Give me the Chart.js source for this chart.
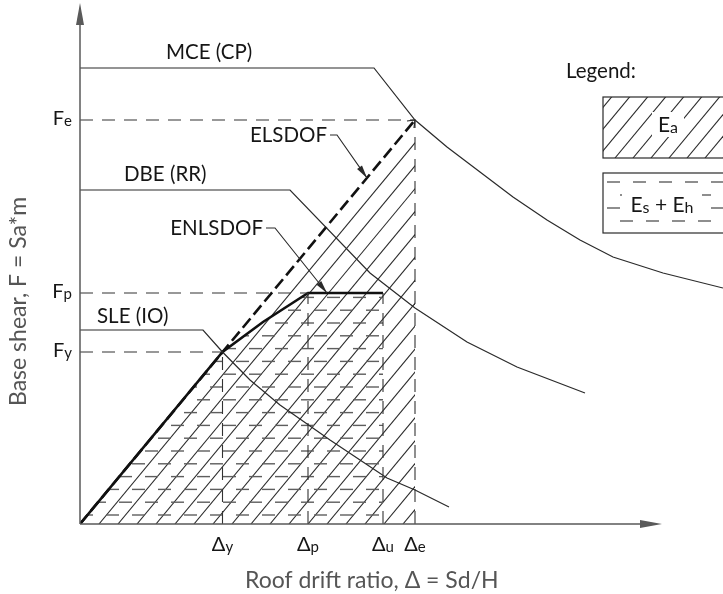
<!DOCTYPE html>
<html>
<head>
<meta charset="utf-8">
<script src="https://cdn.jsdelivr.net/npm/chart.js@4.4.1/dist/chart.umd.min.js"></script>
<style>
  html, body { margin: 0; padding: 0; background: #ffffff; }
  #wrap { width: 723px; height: 594px; }
</style>
</head>
<body>
<div id="wrap"><canvas id="c" width="723" height="594"></canvas></div>
<script>
// ---- Pushover / spectrum landmarks (drift and shear units) ----
const driftTickValues = [14.25, 22.8, 30.3, 33.5];          // Δy, Δp, Δu, Δe
const driftTickLabels = [['Δ', 'y'], ['Δ', 'p'], ['Δ', 'u'], ['Δ', 'e']];
const shearTickValues = [17.2, 23.1, 40.4];                  // Fy, Fp, Fe
const shearTickLabels = [['F', 'y'], ['F', 'p'], ['F', 'e']];

// ---- Demand spectra (ADRS) ----
const mceDrift = [0, 29.4, 33.5, 36.7, 40.0, 43.3, 46.7, 50.0, 53.3, 58.3, 64.3];
const mceShear = [45.6, 45.6, 40.4, 37.7, 35.2, 32.7, 30.4, 28.4, 26.7, 25.1, 23.6];
const dbeDrift = [0, 21.0, 29.0, 33.5, 38.7, 43.7, 50.5];
const dbeShear = [33.4, 33.4, 25.1, 21.6, 18.2, 15.7, 13.1];
const sleDrift = [0, 12.3, 14.25, 17.0, 20.0, 25.0, 30.7, 33.5, 36.9];
const sleShear = [19.4, 19.4, 17.2, 14.4, 11.9, 8.4, 4.6, 3.4, 1.7];

// ---- Equivalent SDOF capacity curves ----
const elsDrift = [0, 33.5];                 // elastic (ELSDOF)
const elsShear = [0, 40.4];
const enlDrift = [0, 14.25, 18.3, 22.8, 30.3]; // nonlinear (ENLSDOF)
const enlShear = [0, 17.2, 20.2, 23.1, 23.1];

// ---- Frame of the drawing ----
const X_MAX = 64.3, Y_MAX = 52.1;
const X_AXIS_END = 58.2;
const INK = '#2a2a2a';
const TEXT = '#161616';
const AXIS = '#5a5a5a';
const FONT = 'Lato, "Open Sans", sans-serif';

const zip = (xs, ys) => xs.map((x, i) => ({ x, y: ys[i] }));

function curve(label, xs, ys, extra) {
  return Object.assign({
    label, data: zip(xs, ys), showLine: true, pointRadius: 0,
    borderColor: INK, borderWidth: 1.2, fill: false, tension: 0
  }, extra || {});
}

// dashed guide lines from the axes to the landmark points
const [Dy, Dp, Du, De] = driftTickValues;
const [Fy, Fp, Fe] = shearTickValues;
const guideStyle = { borderDash: [13, 9], borderWidth: 1.1, borderColor: '#333' };
const guides = [
  curve('Fe guide', [0, De], [Fe, Fe], guideStyle),
  curve('Fp guide', [0, Dp], [Fp, Fp], guideStyle),
  curve('Fy guide', [0, Dy], [Fy, Fy], guideStyle),
  curve('Δy guide', [Dy, Dy], [0, Fy], guideStyle),
  curve('Δp guide', [Dp, Dp], [0, Fp], guideStyle),
  curve('Δu guide', [Du, Du], [0, Fp], guideStyle),
  curve('Δe guide', [De, De], [0, Fe], guideStyle)
];

// text with small trailing subscripts, e.g. F + e
function drawSub(ctx, parts, x, y, size, align, ratio) {
  const r = ratio || 0.74;
  const big = `${size}px ${FONT}`, small = `${Math.round(size * r)}px ${FONT}`;
  let w = 0;
  parts.forEach((p, i) => { ctx.font = i % 2 ? small : big; w += ctx.measureText(p).width; });
  let cx = align === 'right' ? x - w : align === 'center' ? x - w / 2 : x;
  ctx.textAlign = 'left';
  ctx.textBaseline = 'alphabetic';
  parts.forEach((p, i) => {
    ctx.font = i % 2 ? small : big;
    ctx.fillText(p, cx, y + (i % 2 ? 1 : 0));
    cx += ctx.measureText(p).width;
  });
}

function arrowHead(ctx, tx, ty, fx, fy, len, half) {
  const a = Math.atan2(ty - fy, tx - fx);
  ctx.beginPath();
  ctx.moveTo(tx, ty);
  ctx.lineTo(tx - len * Math.cos(a) + half * Math.sin(a), ty - len * Math.sin(a) - half * Math.cos(a));
  ctx.lineTo(tx - len * Math.cos(a) - half * Math.sin(a), ty - len * Math.sin(a) + half * Math.cos(a));
  ctx.closePath();
  ctx.fill();
}

const HATCH_GAP = 1.9;   // horizontal spacing of the Ea hatch (drift units)
const ROW_GAP = 1.28;    // vertical spacing of the Es+Eh dashes (shear units)
const ROW_START = 0.9;

const extras = {
  id: 'diagramExtras',
  beforeDatasetsDraw(chart) {
    const { ctx, scales: { x: xs, y: ys } } = chart;
    const P = (x, y) => [xs.getPixelForValue(x), ys.getPixelForValue(y)];

    // Ea: diagonal hatch inside the elastic triangle
    ctx.save();
    ctx.beginPath();
    ctx.moveTo(...P(0, 0));
    ctx.lineTo(...P(elsDrift[1], elsShear[1]));
    ctx.lineTo(...P(elsDrift[1], 0));
    ctx.closePath();
    ctx.clip();
    const slope = elsShear[1] / elsDrift[1];
    ctx.strokeStyle = INK;
    ctx.lineWidth = 1.1;
    for (let xb = HATCH_GAP; xb < elsDrift[1]; xb += HATCH_GAP) {
      ctx.beginPath();
      ctx.moveTo(...P(xb, 0));
      ctx.lineTo(...P(xb + Y_MAX / slope, Y_MAX));
      ctx.stroke();
    }
    ctx.restore();

    // Es + Eh: staggered dashed rows under the nonlinear curve
    ctx.save();
    ctx.beginPath();
    enlDrift.forEach((d, i) => {
      const p = P(d, enlShear[i]);
      i ? ctx.lineTo(...p) : ctx.moveTo(...p);
    });
    ctx.lineTo(...P(enlDrift[enlDrift.length - 1], 0));
    ctx.closePath();
    ctx.clip();
    ctx.strokeStyle = '#5e5e5e';
    ctx.lineWidth = 1.4;
    ctx.setLineDash([13, 13]);
    let k = 0;
    for (let f = ROW_START; f < Fp; f += ROW_GAP, k++) {
      ctx.lineDashOffset = k % 2 ? 13 : 0;
      ctx.beginPath();
      ctx.moveTo(...P(0, f));
      ctx.lineTo(...P(Du, f));
      ctx.stroke();
    }
    ctx.restore();
  },
  afterDatasetsDraw(chart) {
    const { ctx, scales: { x: xs, y: ys } } = chart;
    const P = (x, y) => [xs.getPixelForValue(x), ys.getPixelForValue(y)];
    const [ox, oy] = P(0, 0);
    ctx.save();

    // axes with arrowheads
    ctx.strokeStyle = AXIS;
    ctx.fillStyle = AXIS;
    ctx.lineWidth = 1.5;
    const [xe] = P(X_AXIS_END, 0);
    const [, ye] = P(0, Y_MAX);
    ctx.beginPath();
    ctx.moveTo(ox, oy); ctx.lineTo(xe - 14, oy);
    ctx.moveTo(ox, oy); ctx.lineTo(ox, ye + 14);
    ctx.stroke();
    arrowHead(ctx, xe, oy, ox, oy, 22, 4);
    arrowHead(ctx, ox, ye, ox, oy, 22, 4);

    // tick labels
    ctx.fillStyle = TEXT;
    driftTickValues.forEach((v, i) => {
      drawSub(ctx, driftTickLabels[i], xs.getPixelForValue(v), oy + 27, 20, 'center');
    });
    shearTickValues.forEach((v, i) => {
      drawSub(ctx, shearTickLabels[i], ox - 8, ys.getPixelForValue(v) + 5, 20, 'right');
    });

    // axis titles
    ctx.fillStyle = '#555';
    ctx.font = `23px ${FONT}`;
    ctx.textAlign = 'left';
    ctx.textBaseline = 'alphabetic';
    ctx.fillText('Roof drift ratio, Δ = Sd/H', 245, 588);
    ctx.save();
    ctx.translate(26, 406);
    ctx.rotate(-Math.PI / 2);
    ctx.fillText('Base shear, F = Sa*m', 0, 0);
    ctx.restore();

    // curve names
    ctx.fillStyle = TEXT;
    ctx.font = `20.5px ${FONT}`;
    ctx.textAlign = 'left';
    ctx.textBaseline = 'middle';
    ctx.fillText('MCE (CP)', 166, 52);
    ctx.fillText('DBE (RR)', 124, 174);
    ctx.fillText('SLE (IO)', 97, 316);
    ctx.textAlign = 'right';
    ctx.fillText('ELSDOF', 327, 135);
    ctx.fillText('ENLSDOF', 263, 228);

    // leaders with arrowheads pointing at the capacity curves
    ctx.strokeStyle = INK;
    ctx.fillStyle = INK;
    ctx.lineWidth = 1.1;
    const elsTip = P(28.7, 28.7 * elsShear[1] / elsDrift[1]);
    const enlTip = P(Dp + 1.9, Fp);
    ctx.beginPath();
    ctx.moveTo(330, 135); ctx.lineTo(337, 135); ctx.lineTo(elsTip[0], elsTip[1]);
    ctx.moveTo(266, 228); ctx.lineTo(275, 228); ctx.lineTo(enlTip[0], enlTip[1]);
    ctx.stroke();
    arrowHead(ctx, elsTip[0], elsTip[1], 337, 135, 13, 3);
    arrowHead(ctx, enlTip[0], enlTip[1], 275, 228, 13, 3);

    // small arrowhead at the top of the elastic line
    const top = P(elsDrift[1], elsShear[1]);
    ctx.lineWidth = 1.2;
    ctx.beginPath();
    ctx.moveTo(top[0] - 8, top[1] + 1); ctx.lineTo(top[0], top[1]); ctx.lineTo(top[0] - 1, top[1] + 8);
    ctx.stroke();

    // legend
    ctx.fillStyle = TEXT;
    ctx.font = `20.5px ${FONT}`;
    ctx.textAlign = 'left';
    ctx.textBaseline = 'middle';
    ctx.fillText('Legend:', 566, 71);

    const bx = 603, bw = 130;
    const box1 = [97, 158], box2 = [173, 233];
    // Ea sample
    ctx.save();
    ctx.beginPath(); ctx.rect(bx, box1[0], bw, box1[1] - box1[0]); ctx.clip();
    ctx.strokeStyle = INK; ctx.lineWidth = 1.1;
    const s = elsShear[1] / elsDrift[1];
    for (let x0 = bx - 60; x0 < bx + bw; x0 += 18) {
      ctx.beginPath(); ctx.moveTo(x0, box1[1]); ctx.lineTo(x0 + 80 / s, box1[1] - 80); ctx.stroke();
    }
    ctx.restore();
    ctx.fillStyle = '#fff';
    ctx.fillRect(652, 112, 32, 25);
    ctx.fillStyle = TEXT;
    drawSub(ctx, ['E', 'a'], 668, 132, 21, 'center');
    // Es + Eh sample
    ctx.save();
    ctx.beginPath(); ctx.rect(bx, box2[0], bw, box2[1] - box2[0]); ctx.clip();
    ctx.strokeStyle = '#5e5e5e'; ctx.lineWidth = 1.4; ctx.setLineDash([13, 13]);
    [182, 195, 208, 221].forEach((yy, i) => {
      ctx.lineDashOffset = i % 2 ? 13 : 0;
      ctx.beginPath(); ctx.moveTo(bx + 4, yy); ctx.lineTo(bx + bw, yy); ctx.stroke();
    });
    ctx.restore();
    ctx.fillStyle = '#fff';
    ctx.fillRect(622, 191, 80, 25);
    ctx.fillStyle = TEXT;
    drawSub(ctx, ['E', 's', ' + E', 'h'], 662, 212, 21, 'center', 0.78);
    ctx.strokeStyle = INK; ctx.lineWidth = 1.2; ctx.setLineDash([]);
    ctx.strokeRect(bx, box1[0], bw, box1[1] - box1[0]);
    ctx.strokeRect(bx, box2[0], bw, box2[1] - box2[0]);

    ctx.restore();
  }
};

new Chart(document.getElementById('c'), {
  type: 'scatter',
  data: {
    datasets: [
      ...guides,
      curve('MCE (CP)', mceDrift, mceShear),
      curve('DBE (RR)', dbeDrift, dbeShear),
      curve('SLE (IO)', sleDrift, sleShear),
      curve('ELSDOF', elsDrift, elsShear, { borderDash: [12, 5], borderWidth: 2.6, borderColor: '#111' }),
      curve('ENLSDOF', enlDrift, enlShear, { borderWidth: 2.6, borderColor: '#111' })
    ]
  },
  options: {
    responsive: false,
    animation: false,
    layout: { padding: { left: 80, right: 0, top: 3, bottom: 70 } },
    scales: {
      x: { type: 'linear', min: 0, max: X_MAX, display: false },
      y: { type: 'linear', min: 0, max: Y_MAX, display: false }
    },
    plugins: { legend: { display: false }, tooltip: { enabled: false } }
  },
  plugins: [extras]
});
</script>
</body>
</html>
